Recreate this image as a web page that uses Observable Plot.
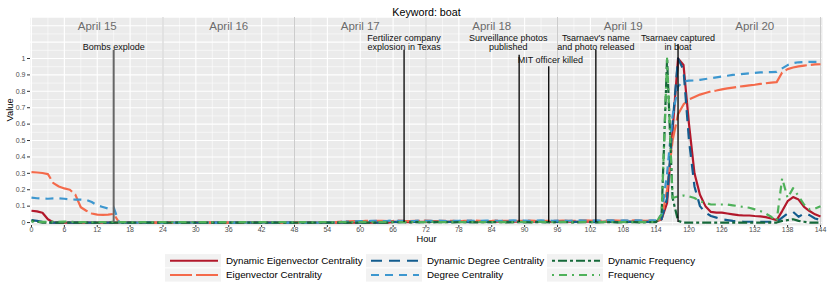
<!DOCTYPE html>
<html><head><meta charset="utf-8">
<script src="https://cdn.jsdelivr.net/npm/d3@7"></script>
<script src="https://cdn.jsdelivr.net/npm/@observablehq/plot@0.6"></script>
<style>
body{margin:0;background:#fff;font-family:"Liberation Sans",Arial,Helvetica,sans-serif;}
#chart{width:830px;height:297px;position:relative;overflow:hidden;}
#legend{position:absolute;left:0;top:246px;}
</style></head><body><div id="chart"></div>
<script>
// ---- data (hourly, hour 0..144) ----
const dynEigenvector = [
0.072,0.068,0.06,0.02,0,0,0,0,0,0,0,0,
0,0,0,0,0,0,0,0,0,0,0,0,
0,0,0,0,0,0,0,0,0,0,0,0,
0,0,0,0,0,0,0,0,0,0,0,0,
0,0,0,0,0,0,0,0,0,0,0,0,
0,0,0,0,0,0,0.004,0.005,0.004,0.003,0.004,0.005,
0.005,0.004,0.005,0.006,0.005,0.004,0.005,0.006,0.005,0.004,0.005,0.006,
0.005,0.006,0.005,0.004,0.006,0.005,0.004,0.005,0.006,0.005,0.004,0.005,
0.005,0.006,0.005,0.004,0.005,0.006,0.005,0.004,0.005,0.006,0.005,0.004,
0.005,0.006,0.005,0.004,0.005,0.005,0.006,0.02,0.12,0.56,1.0,0.96,
0.6,0.3,0.17,0.1,0.065,0.06,0.06,0.055,0.05,0.045,0.043,0.043,
0.04,0.038,0.033,0.025,0.015,0.07,0.13,0.155,0.14,0.095,0.07,0.05,
0.037];
const eigenvector = [
0.307,0.305,0.302,0.295,0.24,0.22,0.208,0.2,0.17,0.093,0.072,0.055,
0.048,0.047,0.048,0.053,0,0,0,0,0,0,0,0,
0,0,0,0,0,0,0,0,0,0,0,0,
0,0,0,0,0,0,0,0,0,0,0,0,
0,0,0,0,0,0,0,0,0.004,0.006,0.008,0.009,
0.008,0.01,0.009,0.01,0.011,0.009,0.01,0.012,0.01,0.009,0.011,0.01,
0.012,0.01,0.009,0.01,0.011,0.01,0.008,0.01,0.011,0.012,0.01,0.009,
0.01,0.012,0.011,0.01,0.009,0.01,0.011,0.012,0.01,0.009,0.01,0.011,
0.01,0.012,0.011,0.01,0.012,0.013,0.012,0.01,0.011,0.012,0.013,0.012,
0.011,0.012,0.013,0.012,0.011,0.012,0.013,0.02,0.2,0.5,0.66,0.72,
0.75,0.765,0.78,0.79,0.8,0.805,0.812,0.818,0.823,0.828,0.832,0.836,
0.84,0.845,0.849,0.853,0.856,0.915,0.935,0.945,0.952,0.957,0.961,0.964,
0.965];
const dynDegree = [
0.015,0.01,0.004,0,0,0,0,0,0,0,0,0,
0,0,0,0,0,0,0,0,0,0,0,0,
0,0,0,0,0,0,0,0,0,0,0,0,
0,0,0,0,0,0,0,0,0,0,0,0,
0,0,0,0,0,0,0,0,0,0,0,0,
0,0,0,0,0,0.003,0.004,0.003,0.004,0.005,0.004,0.003,
0.004,0.005,0.004,0.003,0.004,0.005,0.006,0.004,0.003,0.004,0.005,0.004,
0.003,0.004,0.005,0.004,0.006,0.004,0.003,0.004,0.005,0.004,0.003,0.004,
0.005,0.004,0.003,0.004,0.005,0.006,0.004,0.003,0.004,0.005,0.004,0.003,
0.004,0.005,0.004,0.003,0.004,0.005,0.004,0.02,0.15,0.6,1.0,0.93,
0.5,0.22,0.1,0.06,0.04,0.03,0.02,0.015,0.01,0.007,0.005,0.005,
0.005,0.005,0.005,0.005,0.005,0.03,0.055,0.065,0.035,0.055,0.045,0.025,
0.015];
const degree = [
0.152,0.148,0.146,0.145,0.147,0.148,0.145,0.141,0.14,0.14,0.138,0.125,
0.105,0.095,0.085,0.092,0,0,0,0,0,0,0,0,
0,0,0,0,0,0,0,0,0,0,0,0,
0,0,0,0,0,0,0,0,0,0,0,0,
0,0,0,0,0,0,0,0,0.003,0.005,0.006,0.008,
0.009,0.008,0.01,0.011,0.009,0.01,0.012,0.01,0.011,0.009,0.01,0.012,
0.011,0.01,0.012,0.011,0.009,0.01,0.011,0.013,0.012,0.01,0.011,0.012,
0.013,0.011,0.01,0.012,0.013,0.011,0.012,0.01,0.011,0.013,0.012,0.011,
0.012,0.013,0.011,0.012,0.014,0.012,0.011,0.013,0.012,0.014,0.013,0.012,
0.013,0.012,0.014,0.013,0.012,0.013,0.014,0.05,0.3,0.65,0.83,0.86,
0.865,0.866,0.87,0.875,0.88,0.885,0.89,0.895,0.9,0.903,0.906,0.909,
0.912,0.915,0.917,0.917,0.918,0.94,0.96,0.972,0.977,0.979,0.98,0.98,
0.98];
const dynFrequency = [
0.012,0.005,0,0,0,0,0,0,0,0,0,0,
0,0,0,0,0,0,0,0,0,0,0,0,
0,0,0,0,0,0,0,0,0,0,0,0,
0,0,0,0,0,0,0,0,0,0,0,0,
0,0,0,0,0,0,0,0,0,0,0,0,
0,0,0,0,0,0,0.002,0.003,0.002,0.001,0.002,0.003,
0.002,0.001,0.002,0.003,0.002,0.001,0.002,0.003,0.002,0.001,0.002,0.003,
0.002,0.003,0.002,0.001,0.002,0.003,0.002,0.001,0.002,0.003,0.002,0.001,
0.002,0.003,0.002,0.001,0.002,0.003,0.002,0.001,0.002,0.003,0.002,0.001,
0.002,0.003,0.002,0.001,0.002,0.003,0.002,0.05,1.0,0.15,0.01,0,
0,0,0,0,0,0,0,0,0,0,0,0,
0,0,0,0,0,0.01,0.015,0.02,0.01,0.005,0,0,
0];
const frequency = [
0.005,0.004,0.004,0.005,0.006,0.005,0.006,0.005,0.004,0.003,0.002,0.002,
0.002,0.002,0.003,0.004,0.003,0.002,0.002,0.002,0.002,0.002,0.002,0.002,
0.002,0.002,0.002,0.002,0.002,0.002,0.002,0.002,0.002,0.002,0.002,0.002,
0.002,0.002,0.002,0.002,0.002,0.002,0.002,0.002,0.002,0.002,0.002,0.002,
0.002,0.002,0.002,0.002,0.002,0.002,0.002,0.002,0.002,0.002,0.002,0.002,
0.003,0.004,0.003,0.002,0.003,0.004,0.003,0.002,0.003,0.004,0.003,0.002,
0.003,0.004,0.003,0.002,0.003,0.004,0.003,0.002,0.003,0.004,0.003,0.002,
0.003,0.004,0.003,0.002,0.003,0.004,0.003,0.002,0.003,0.004,0.003,0.002,
0.003,0.004,0.003,0.002,0.003,0.004,0.003,0.002,0.003,0.004,0.003,0.002,
0.003,0.004,0.003,0.002,0.003,0.004,0.003,0.05,1.0,0.15,0.16,0.165,
0.16,0.15,0.13,0.12,0.11,0.11,0.11,0.11,0.105,0.1,0.095,0.09,
0.08,0.07,0.055,0.035,0.01,0.27,0.15,0.21,0.16,0.11,0.08,0.085,
0.1];

const seriesNames = ["Dynamic Eigenvector Centrality","Eigenvector Centrality","Dynamic Degree Centrality","Degree Centrality","Dynamic Frequency","Frequency"];
const seriesValues = [dynEigenvector, eigenvector, dynDegree, degree, dynFrequency, frequency];
const seriesColors = ["#b2182b","#f46a4b","#135c8e","#3d97cf","#16693a","#4fb15a"];
const seriesDashes = ["none","22 4","11 7","8 6","3 3 9 3","2 5 8 5"];

const dayLabels = ["April 15","April 16","April 17","April 18","April 19","April 20"];
const dayCenters = [12,36,60,84,108,132];
const dayBounds = [24,48,72,96,120,144];

const eventLabels = ["Bombs explode","Fertilizer company\nexplosion in Texas","Surveillance photos\npublished","MIT officer killed","Tsarnaev's name\nand photo released","Tsarnaev captured\nin boat"];
const eventHours = [15,68,89,94.4,103,118];
const eventTops = [1.05,1.05,1.02,0.95,1.05,1.085];
const eventLabelHours = [15,68,87,94.7,103,118];
const eventLabelY = [1.05,1.05,1.05,0.97,1.05,1.05];
const eventColors = ["#666666","#000","#000","#000","#000","#000"];
const eventWidths = [2,1.3,1.3,1.3,1.3,1.3];

const xTicks = d3.range(0,145,6);
const xMinor = d3.range(3,145,6);
const yTicks = [0,0.1,0.2,0.3,0.4,0.5,0.6,0.7,0.8,0.9,1];
const yGridMajor = [0,0.1,0.2,0.3,0.4,0.5,0.6,0.7,0.8,0.9,1,1.1,1.2];
const yGridMinor = [0.05,0.15,0.25,0.35,0.45,0.55,0.65,0.75,0.85,0.95,1.05,1.15,1.25];

// ---- build table ----
const rows = [];
seriesNames.forEach((s,k)=>seriesValues[k].forEach((v,h)=>rows.push({series:s, hour:h, value:v})));
const events = eventLabels.map((l,i)=>({label:l, hour:eventHours[i], top:eventTops[i], lx:eventLabelHours[i], ly:eventLabelY[i], color:eventColors[i], w:eventWidths[i]}));
const days = dayLabels.map((d,i)=>({label:d, hour:dayCenters[i]}));

const font = '"Liberation Sans",Arial,Helvetica,sans-serif';
const lineMarks = seriesNames.map((s,k)=>Plot.line(rows.filter(r=>r.series===s),{
  x:"hour", y:"value", stroke:seriesColors[k], strokeWidth:2.2,
  strokeDasharray:seriesDashes[k]==="none"?null:seriesDashes[k], strokeLinejoin:"round", strokeLinecap:"butt"
}));

const plot = Plot.plot({
  width:830, height:246,
  marginTop:17, marginBottom:21, marginLeft:30, marginRight:8,
  style:{fontFamily:font, background:"transparent", overflow:"visible"},
  x:{domain:[-0.18,144.365], axis:null},
  y:{domain:[-0.018,1.25], axis:null},
  marks:[
    Plot.frame({fill:"#ebebeb", stroke:"none"}),
    Plot.gridY(yGridMinor,{stroke:"#ffffff", strokeOpacity:1, strokeWidth:0.55}),
    Plot.gridX(xMinor,{stroke:"#ffffff", strokeOpacity:1, strokeWidth:0.55}),
    Plot.gridY(yGridMajor,{stroke:"#ffffff", strokeOpacity:1, strokeWidth:1.1}),
    Plot.gridX(xTicks,{stroke:"#ffffff", strokeOpacity:1, strokeWidth:1.1}),
    Plot.ruleX(dayBounds,{stroke:"#cccccc", strokeWidth:1}),
    Plot.text(days,{x:"hour", y:1.195, text:"label", fontSize:11.5, fill:"#6b6b6b"}),
    ...lineMarks,
    Plot.ruleX(events,{x:"hour", y1:0, y2:"top", stroke:d=>d.color, strokeWidth:d=>d.w}),
    Plot.text(events,{x:"lx", y:"ly", text:"label", lineAnchor:"bottom", lineHeight:1.0, fontSize:9, fill:"#111"}),
    Plot.axisX(xTicks,{tickSize:2, tickPadding:0, fontSize:7, fill:"#4d4d4d", stroke:"#333", label:null}),
    Plot.axisY(yTicks,{tickSize:3, tickPadding:2, fontSize:7, fill:"#4d4d4d", stroke:"#333", label:null, tickFormat:d=>String(+d.toFixed(1))}),
    Plot.text(["Keyword: boat"],{frameAnchor:"top", dy:-9, fontSize:10.7, fill:"#000"}),
    Plot.text(["Hour"],{frameAnchor:"bottom", dy:16.5, fontSize:9.3, fill:"#000"}),
    Plot.text(["Value"],{frameAnchor:"left", dx:-20, rotate:-90, fontSize:9.3, fill:"#000"})
  ]
});
plot.style.display="block";
const chart = document.getElementById("chart");
chart.appendChild(plot);

// ---- legend ----
const legendCols = [165,366,547];
const legendRows = [14.7,29];
const legendOrder = [[0,2,4],[1,3,5]];
const lg = d3.select(chart).append("svg").attr("id","legend").attr("width",830).attr("height",51)
  .style("font-family",font);
legendOrder.forEach((row,ri)=>row.forEach((k,ci)=>{
  const x0 = legendCols[ci], yc = legendRows[ri];
  lg.append("rect").attr("x",x0).attr("y",yc-6.6).attr("width",56).attr("height",13.2).attr("fill","#f2f2f2");
  lg.append("line").attr("x1",x0+5).attr("x2",x0+53).attr("y1",yc).attr("y2",yc)
    .attr("stroke",seriesColors[k]).attr("stroke-width",2)
    .attr("stroke-dasharray",seriesDashes[k]==="none"?null:seriesDashes[k]);
  lg.append("text").attr("x",x0+61).attr("y",yc).attr("dy","0.35em").attr("font-size",9.8).attr("fill","#000").text(seriesNames[k]);
}));
</script></body></html>
